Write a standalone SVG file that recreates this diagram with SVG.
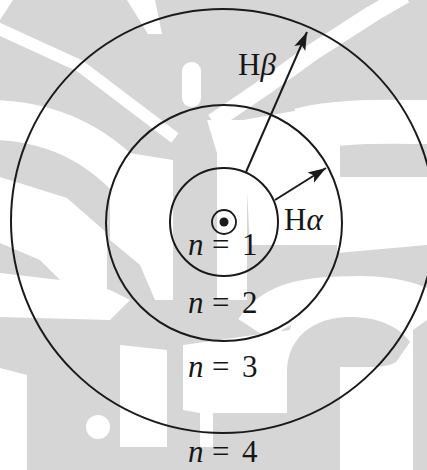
<svg xmlns="http://www.w3.org/2000/svg" width="427" height="470" viewBox="0 0 427 470">
<style>
.wm{fill:#ffffff;stroke:none}
.gm{fill:#d6d6d6;stroke:none}
.wb{fill:none;stroke:#ffffff;stroke-linecap:butt;stroke-linejoin:round}
.orbit{fill:none;stroke:#1a1a1a;stroke-width:2}
.lbl{font-family:"Liberation Serif",serif;font-size:31px;fill:#161616}
.it{font-style:italic}
.conn{stroke:#1a1a1a;stroke-width:2;fill:none}
</style>
<defs>
<marker id="ah" markerWidth="20" markerHeight="14" refX="18" refY="7" orient="auto" markerUnits="userSpaceOnUse">
<path d="M0,1 L18,7 L0,13 L4,7 Z" fill="#1a1a1a"/>
</marker>
</defs>
<g id="watermark">
<rect x="0" y="0" width="427" height="470" fill="#d6d6d6"/>
<polygon class="wm" points="0,0 13,0 0,20"/>
<path class="wb" stroke-width="12" d="M-5,27 L80,66 L175,138"/>
<polygon class="wm" points="127,0 155,0 162,34 148,34"/>
<rect class="wm" x="182" y="62" width="19" height="45" rx="9"/>
<path class="wb" stroke-width="17" d="M213,122 L263,88 L313,52 L372,14 L405,-5"/>
<path class="wb" stroke-width="40" d="M-5,120 C60,122 110,150 150,205"/>
<polygon class="wm" points="110,150 173,160 173,300 155,300 140,265 110,240"/>
<polygon class="wm" points="0,177 67,198 107,233 107,300 80,300 40,260 0,243"/>
<polygon class="wm" points="0,273 60,280 110,290 130,300 110,320 0,317"/>
<polygon class="wm" points="0,368 27,375 27,470 0,470"/>
<circle class="wm" cx="98" cy="427" r="12"/>
<polygon class="wm" points="120,345 167,350 167,447 120,447"/>
<polygon class="wm" points="207,120 260,120 247,153 247,300 217,300 217,153"/>
<polygon class="wm" points="243,120 300,110 340,110 340,245 250,245"/>
<path class="wb" stroke-width="44" d="M300,130 C340,120 380,122 430,122"/>
<polygon class="wm" points="337,177 427,177 427,245 337,253"/>
<path class="wb" stroke-width="40" d="M255,330 C275,300 310,296 360,296 C400,296 420,306 430,312"/>
<polygon class="wm" points="183,345 290,330 297,300 297,413 200,413 183,410"/>
<polygon class="wm" points="200,410 213,410 213,447 200,447"/>
<polygon class="wm" points="297,300 427,315 427,470 297,470"/>
<path class="gm" d="M287,470 L287,372 C287,338 313,317 350,317 C378,317 398,326 410,342 L396,362 C388,367 375,367 367,367 L340,367 L340,470 Z"/>
<polygon class="gm" points="413,330 427,320 427,470 413,470"/>
</g>
<g id="orbit-n4"><circle class="orbit" cx="223" cy="221" r="212"/></g>
<g id="orbit-n3"><circle class="orbit" cx="224" cy="223" r="118"/></g>
<g id="orbit-n2"><circle class="orbit" cx="224" cy="222" r="54"/></g>
<g id="nucleus">
<circle cx="224" cy="222" r="12" fill="none" stroke="#1a1a1a" stroke-width="1.8"/>
<circle cx="224" cy="222" r="4.5" fill="#1a1a1a"/>
</g>
<g id="connectors">
<line id="hbeta" class="conn" x1="246" y1="172" x2="307" y2="32" marker-end="url(#ah)"/>
<line id="halpha" class="conn" x1="275" y1="200" x2="326" y2="168" marker-end="url(#ah)"/>
</g>
<g id="label-n1"><text class="lbl" y="255"><tspan class="it" x="188">n</tspan><tspan x="212">=</tspan><tspan x="242">1</tspan></text></g>
<g id="label-n2"><text class="lbl" y="313"><tspan class="it" x="188">n</tspan><tspan x="212">=</tspan><tspan x="242">2</tspan></text></g>
<g id="label-n3"><text class="lbl" y="377"><tspan class="it" x="188">n</tspan><tspan x="212">=</tspan><tspan x="242">3</tspan></text></g>
<g id="label-n4"><text class="lbl" y="462"><tspan class="it" x="188">n</tspan><tspan x="212">=</tspan><tspan x="242">4</tspan></text></g>
<g id="label-halpha"><text class="lbl" x="284" y="230">H<tspan class="it">α</tspan></text></g>
<g id="label-hbeta"><text class="lbl" x="238" y="75">H<tspan class="it">β</tspan></text></g>
</svg>
